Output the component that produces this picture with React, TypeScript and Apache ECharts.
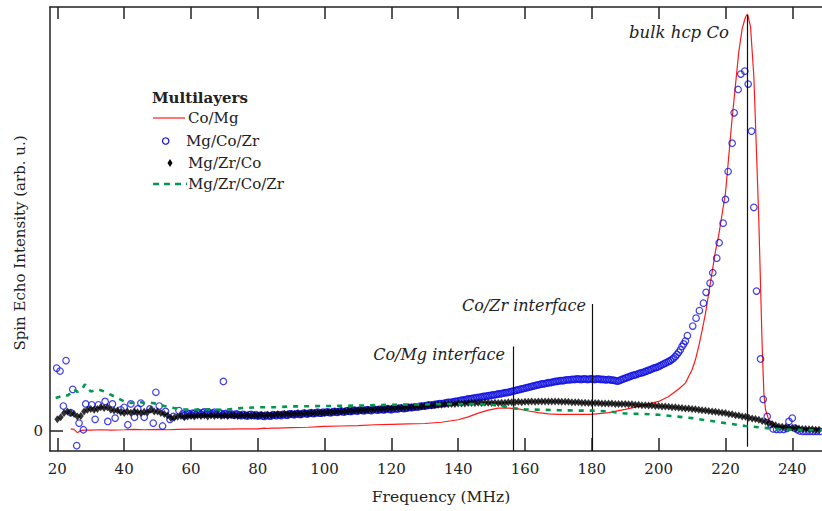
import React, { useEffect, useRef } from "react";
import * as echarts from "echarts";

// ---- Data ----
const xTicks = [20, 40, 60, 80, 100, 120, 140, 160, 180, 200, 220, 240];
const yTicks = [0];

// Co/Mg (red line)
const coMgFreq = [24, 25, 26, 27, 28, 30, 33, 36, 40, 43, 46, 50, 53, 56, 60, 65, 70, 75, 80, 82, 83, 84, 86, 90, 95, 100, 105, 110, 115, 120, 125, 130, 135, 140, 143, 146, 149, 152, 155, 158, 161, 164, 167, 170, 175, 180, 185, 190, 195, 200, 203, 206, 208, 210, 211, 212, 213, 214, 215, 216, 217, 218, 219, 220, 221, 222, 223, 224, 225, 226, 226.6, 227.5, 228.5, 229.5, 230, 230.5, 231, 231.5, 232, 233, 234, 236, 238, 240, 243, 246, 249];
const coMgVal = [0.4, 0.3, -0.5, 0.0, 0.1, 0.1, 0.2, 0.1, 0.2, 0.3, 0.2, 0.3, 0.2, 0.3, 0.35, 0.35, 0.35, 0.4, 0.4, 0.6, 0.5, 0.6, 0.6, 0.7, 0.8, 1.0, 1.1, 1.2, 1.4, 1.5, 1.6, 1.7, 2.0, 2.6, 3.3, 4.2, 4.9, 5.4, 5.4, 5.2, 4.7, 4.3, 4.0, 3.9, 3.9, 3.9, 4.3, 5.1, 6.0, 7.0, 8.2, 10.0, 11.4, 14.6, 17.0, 20.2, 24, 28, 33, 38, 43, 47, 52, 57, 66, 75, 83, 91, 96.5, 99.3, 100, 97, 85, 62, 50, 35, 20, 9, 5, 2.5, 1.5, 1.0, 0.7, 0.6, 0.3, 0.2, 0.2];

// Mg/Co/Zr (blue open circles): scattered low-frequency points
const mgCoZrLowFreq = [19.8, 20.8, 21.8, 22.6, 24, 24.6, 25.8, 26.5, 27.8, 28.5, 30.3, 31.3, 32.3, 34.3, 35.1, 36.5, 37.3, 39, 40, 41.1, 42, 43.1, 44.1, 45, 46, 47.7, 48.7, 49.5, 50.5, 51.5, 52.4, 53.7, 54.7, 56.4, 57.5, 69.7];
const mgCoZrLowVal = [15.0, 14.3, 5.9, 16.8, 4.3, 9.9, -3.6, 1.8, 0.2, 6.4, 6.2, 2.7, 6.2, 7.0, 2.2, 6.4, 3.0, 5.0, 5.6, 1.4, 6.4, 3.2, 5.2, 6.6, 3.2, 5.2, 1.8, 9.2, 5.9, 1.1, 4.6, 2.7, 3.4, 4.8, 4.0, 11.8];
// dense part, one point per MHz starting at 58 MHz
const mgCoZrDenseStart = 58;
const mgCoZrDenseVal = [
  3.6, 4.2, 3.8, 4.1, 4.4, 3.9, 4.5, 4.2, 4.0, 4.4, 3.9, 4.1, 4.0, 3.8, 4.0, 3.7, 3.9, 3.6, 3.8, 3.5,
  3.9, 3.6, 3.5, 3.7, 3.4, 3.6, 3.5, 3.7, 3.8, 3.6, 3.9, 3.7, 4.0, 3.8, 4.1, 3.9, 4.2, 4.0, 4.3, 4.1,
  4.4, 4.2, 4.3, 4.5, 4.3, 4.6, 4.4, 4.7, 4.5, 4.8, 4.6, 4.9, 4.7, 4.9, 4.8, 5.0, 4.8, 5.1, 4.9, 5.1,
  5.0, 5.2, 5.0, 5.3, 5.2, 5.4, 5.3, 5.5, 5.5, 5.7, 5.7, 5.9, 5.9, 6.1, 6.1, 6.3, 6.4, 6.5, 6.6, 6.8,
  6.8, 7.0, 7.1, 7.3, 7.4, 7.6, 7.7, 7.8, 8.0, 8.1, 8.2, 8.4, 8.5, 8.6, 8.8, 8.9, 9.1, 9.2, 9.4, 9.6,
  9.8, 10.0, 10.2, 10.4, 10.6, 10.8, 11.0, 11.2, 11.3, 11.5, 11.6, 11.8, 11.9, 12.0, 12.1, 12.2, 12.3, 12.3, 12.4, 12.3,
  12.4, 12.3, 12.4, 12.3, 12.4, 12.3, 12.2, 12.3, 12.1, 12.0, 11.9, 12.3, 12.6, 12.9, 13.2, 13.4, 13.7, 13.9, 14.2, 14.5,
  14.8, 15.1, 15.4, 15.8, 16.2, 16.6, 17.1, 17.8, 18.8, 20.2, 21.5
];
// the in-between readings of the dense part, starting at 58.5 MHz
const mgCoZrHalfStart = 58.5;
const mgCoZrHalfVal = [
  3.9, 4.0, 4.2, 3.9, 4.2, 4.3, 4.0, 4.3, 4.2, 4.0,
  4.2, 3.8, 4.1, 3.9, 3.8, 4.0, 3.7, 3.9, 3.6, 3.8,
  3.7, 3.8, 3.6, 3.5, 3.7, 3.5, 3.8, 3.6, 3.7, 3.9,
  3.7, 4.0, 3.9, 4.0, 3.9, 4.1, 4.0, 4.2, 4.1, 4.3,
  4.2, 4.4, 4.4, 4.3, 4.5, 4.4, 4.6, 4.5, 4.7, 4.6,
  4.8, 4.7, 4.9, 4.8, 5.0, 4.9, 5.0, 5.0, 5.1, 5.0,
  5.2, 5.1, 5.2, 5.2, 5.4, 5.3, 5.4, 5.6, 5.6, 5.7,
  5.8, 5.9, 6.0, 6.1, 6.2, 6.3, 6.5, 6.5, 6.7, 6.8,
  6.9, 7.0, 7.2, 7.3, 7.5, 7.6, 7.8, 7.9, 8.0, 8.2,
  8.3, 8.4, 8.6, 8.7, 8.8, 9.0, 9.1, 9.3, 9.5, 9.7,
  9.9, 10.1, 10.3, 10.5, 10.7, 10.9, 11.1, 11.2, 11.4, 11.5,
  11.7, 11.8, 12.0, 12.0, 12.2, 12.2, 12.3, 12.4, 12.3, 12.4,
  12.3, 12.4, 12.3, 12.4, 12.3, 12.3, 12.2, 12.2, 12.1, 11.9,
  12.1, 12.4, 12.7, 13.0, 13.3, 13.5, 13.8, 14.0, 14.3, 14.6,
  15.0, 15.2, 15.6, 16.0, 16.4, 16.8, 17.4, 18.3, 19.4, 20.8
];
// peak region
const mgCoZrPeakFreq = [208.6, 210.2, 211.2, 212.2, 213.4, 214.2, 215.4, 216.2, 217.4, 218.1, 219.3, 220, 220.8, 222, 222.6, 223.8, 224.6, 225.8, 226.8, 227.8, 228.5, 229.3, 230.5, 231.3, 232.5, 233.5, 234.3, 235.3, 236.3, 237.4, 238.3, 239, 240, 240.8, 241.5, 242.3, 243.3, 244.3, 245.3, 246.3, 247.3, 248.3];
const mgCoZrPeakVal = [22.8, 25.1, 27.0, 28.8, 30.6, 33.2, 35.4, 37.9, 41.4, 45.1, 49.8, 55.5, 62.2, 69, 76.3, 81.9, 85.6, 86.3, 83.2, 71.9, 53.6, 33.5, 17.2, 7.5, 3.4, 1.5, 0.4, 0.3, 0.3, 0.3, 0.5, 2.2, 3.0, 0.6, 0.2, -0.1, -0.2, -0.2, -0.2, -0.2, -0.2, -0.2];

// Mg/Zr/Co (black diamonds), one point per MHz starting at 20 MHz
const mgZrCoStart = 20;
const mgZrCoVal = [
  2.7, 3.2, 4.2, 4.6, 4.2, 4.0, 3.4, 3.5, 4.6, 5.0, 5.2, 5.0, 5.2, 5.6, 5.4, 5.6, 5.0, 4.8, 4.8, 4.4,
  4.2, 4.5, 4.3, 4.6, 4.4, 4.2, 4.5, 4.4, 5.0, 4.6, 4.6, 4.2, 4.0, 3.6, 3.0, 3.1, 3.3, 3.5, 3.2, 3.4,
  3.5, 3.4, 3.6, 3.5, 3.6, 3.4, 3.6, 3.5, 3.7, 3.5, 3.6, 3.5, 3.7, 3.6, 3.5, 3.7, 3.6, 3.7, 3.5, 3.7,
  3.6, 3.8, 3.6, 3.8, 3.7, 3.8, 3.9, 3.8, 4.0, 3.9, 4.0, 4.0, 4.1, 4.0, 4.2, 4.1, 4.2, 4.2, 4.3, 4.3,
  4.3, 4.4, 4.4, 4.5, 4.5, 4.6, 4.6, 4.7, 4.7, 4.8, 4.8, 4.9, 4.9, 5.0, 5.0, 5.1, 5.1, 5.2, 5.2, 5.3,
  5.3, 5.4, 5.4, 5.5, 5.5, 5.6, 5.6, 5.7, 5.8, 5.8, 5.9, 6.0, 6.0, 6.1, 6.2, 6.2, 6.3, 6.3, 6.4, 6.4,
  6.5, 6.5, 6.5, 6.6, 6.6, 6.6, 6.7, 6.6, 6.7, 6.7, 6.6, 6.7, 6.6, 6.7, 6.7, 6.8, 6.8, 6.8, 6.9, 6.8,
  6.9, 6.9, 7.0, 6.9, 7.0, 7.0, 7.0, 7.0, 7.0, 7.0, 7.0, 6.9, 6.9, 6.9, 6.8, 6.8, 6.8, 6.7, 6.7, 6.6,
  6.6, 6.6, 6.6, 6.5, 6.5, 6.5, 6.5, 6.4, 6.4, 6.4, 6.4, 6.3, 6.3, 6.2, 6.2, 6.1, 6.1, 6.0, 6.0, 5.9,
  5.9, 5.8, 5.8, 5.7, 5.6, 5.6, 5.5, 5.4, 5.3, 5.3, 5.2, 5.1, 5.0, 4.9, 4.8, 4.7, 4.6, 4.5, 4.4, 4.3,
  4.2, 4.0, 3.9, 3.7, 3.6, 3.4, 3.3, 3.1, 2.9, 2.8, 2.6, 2.3, 2.1, 1.8, 1.5, 1.3, 1.0, 0.9, 0.8, 0.7,
  0.7, 0.6, 0.5, 0.4, 0.4, 0.3, 0.3, 0.2, 0.2, 0.2
];

// Mg/Zr/Co/Zr (green dashed line)
const mgZrCoZrFreq = [19.5, 21, 22, 23, 24, 25, 26, 27, 28.3, 29, 30, 31, 32, 33, 34, 36, 38, 40, 42, 44, 46, 48, 50, 52, 55, 58, 60, 65, 70, 75, 80, 85, 90, 100, 110, 120, 130, 140, 145, 150, 153, 156, 160, 165, 170, 175, 180, 185, 190, 195, 200, 205, 210, 215, 220, 226, 230, 235, 240, 245, 249];
const mgZrCoZrVal = [7.8, 8.2, 8.6, 8.4, 9.0, 9.9, 9.3, 9.6, 11.1, 10.2, 9.4, 9.6, 9.9, 9.7, 9.4, 8.6, 7.8, 7.0, 6.6, 7.0, 6.6, 6.7, 6.4, 5.9, 5.4, 5.1, 5.0, 5.1, 5.0, 5.4, 5.6, 5.6, 5.8, 5.9, 6.0, 6.2, 6.3, 6.4, 6.4, 6.2, 5.9, 5.4, 5.1, 5.0, 4.9, 4.8, 4.8, 4.6, 4.1, 4.0, 3.8, 3.4, 3.0, 2.4, 1.8, 1.1, 0.8, 0.4, 0.2, 0.15, 0.1];

// Annotation markers
const annotations = [
  { label: "Co/Mg interface", freq: 156.5, top: 20.2, bottom: -4.9 },
  { label: "Co/Zr interface", freq: 180, top: 30.4, bottom: -4.9 },
  { label: "bulk hcp Co", freq: 226.5, top: 99.8, bottom: -3.9 },
];

const legendNames = ["Co/Mg", "Mg/Co/Zr", "Mg/Zr/Co", "Mg/Zr/Co/Zr"];

const FONT = "'DejaVu Serif', 'Liberation Serif', serif";
const RED = "#ff1a1a";
const BLUE = "#1010e0";
const GREEN = "#00994d";
const AXIS = "#222";

function zip(xs: number[], ys: number[]) {
  const n = Math.min(xs.length, ys.length);
  const out: number[][] = [];
  for (let i = 0; i < n; i++) out.push([xs[i], ys[i]]);
  return out;
}

export default function App() {
  const ref = useRef<HTMLDivElement>(null);

  useEffect(() => {
    if (!ref.current) return;
    const chart = echarts.init(ref.current, null, { renderer: "svg" });

    const blueData = [
      ...zip(mgCoZrLowFreq, mgCoZrLowVal),
      ...mgCoZrDenseVal.map((v, i) => [mgCoZrDenseStart + i, v]),
      ...mgCoZrHalfVal.map((v, i) => [mgCoZrHalfStart + i, v]),
      ...zip(mgCoZrPeakFreq, mgCoZrPeakVal),
    ];
    const blackData = mgZrCoVal.map((v, i) => [mgZrCoStart + i, v]);

    const xMin = 17.8;
    const xMax = 248.9;

    const option: any = {
      animation: false,
      backgroundColor: "#fff",
      grid: { left: 50, right: 0, top: 7, bottom: 60, containLabel: false },
      xAxis: [
        {
          type: "value",
          position: "bottom",
          min: xMin,
          max: xMax,
          axisLine: { show: true, onZero: false, lineStyle: { color: AXIS, width: 1.5 } },
          axisTick: { show: true, inside: true, length: 13, customValues: xTicks, lineStyle: { color: AXIS, width: 1.5 } },
          axisLabel: { show: true, customValues: xTicks, margin: 10, fontFamily: FONT, fontSize: 15, color: AXIS },
          splitLine: { show: false },
        },
        {
          type: "value",
          position: "top",
          min: xMin,
          max: xMax,
          axisLine: { show: true, onZero: false, lineStyle: { color: AXIS, width: 1.5 } },
          axisTick: { show: true, inside: true, length: 12, customValues: xTicks, lineStyle: { color: AXIS, width: 1.5 } },
          axisLabel: { show: false },
          splitLine: { show: false },
        },
      ],
      yAxis: {
        type: "value",
        min: -4.9,
        max: 101.7,
        axisLine: { show: true, onZero: false, lineStyle: { color: AXIS, width: 1.5 } },
        axisTick: { show: true, inside: true, length: 13, customValues: yTicks, lineStyle: { color: AXIS, width: 1.5 } },
        axisLabel: { show: true, customValues: yTicks, margin: 7, fontFamily: FONT, fontSize: 15, color: AXIS },
        splitLine: { show: false },
      },
      series: [
        {
          name: legendNames[0],
          type: "line",
          data: zip(coMgFreq, coMgVal),
          showSymbol: false,
          symbol: "none",
          lineStyle: { color: RED, width: 1.2 },
          z: 2,
          markLine: {
            silent: true,
            symbol: ["none", "none"],
            label: { show: false },
            lineStyle: { color: "#111", width: 1.2, type: "solid" },
            data: annotations.map((a) => [
              { coord: [a.freq, a.top] },
              { coord: [a.freq, a.bottom] },
            ]),
          },
        },
        {
          name: legendNames[1],
          type: "scatter",
          data: blueData,
          symbol: "circle",
          symbolSize: 6.5,
          itemStyle: { color: "rgba(0,0,0,0)", borderColor: BLUE, borderWidth: 1.2 },
          z: 3,
        },
        {
          name: legendNames[2],
          type: "scatter",
          data: blackData,
          symbol: "diamond",
          symbolSize: [6, 8],
          itemStyle: { color: "#000" },
          z: 4,
        },
        {
          name: legendNames[3],
          type: "line",
          data: zip(mgZrCoZrFreq, mgZrCoZrVal),
          showSymbol: false,
          symbol: "none",
          smooth: false,
          lineStyle: { color: GREEN, width: 2.6, type: [5, 6] },
          z: 5,
        },
      ],
      graphic: [
        {
          type: "text",
          x: 20,
          y: 243,
          rotation: Math.PI / 2,
          style: {
            text: "Spin Echo Intensity (arb. u.)",
            fontFamily: FONT,
            fontSize: 15,
            fill: AXIS,
            align: "center",
            verticalAlign: "middle",
          },
        },
        {
          type: "text",
          x: 441,
          y: 497,
          style: {
            text: "Frequency (MHz)",
            fontFamily: FONT,
            fontSize: 15.5,
            fill: AXIS,
            align: "center",
            verticalAlign: "middle",
          },
        },
        {
          type: "text",
          x: 729,
          y: 32,
          style: { text: annotations[2].label, fontFamily: FONT, fontStyle: "italic", fontSize: 16.5, fill: AXIS, align: "right", verticalAlign: "middle" },
        },
        {
          type: "text",
          x: 586,
          y: 305,
          style: { text: annotations[1].label, fontFamily: FONT, fontStyle: "italic", fontSize: 16, fill: AXIS, align: "right", verticalAlign: "middle" },
        },
        {
          type: "text",
          x: 505,
          y: 354,
          style: { text: annotations[0].label, fontFamily: FONT, fontStyle: "italic", fontSize: 16, fill: AXIS, align: "right", verticalAlign: "middle" },
        },
        {
          type: "text",
          x: 152,
          y: 98,
          style: { text: "Multilayers", fontFamily: FONT, fontWeight: "bold", fontSize: 15, fill: AXIS, align: "left", verticalAlign: "middle" },
        },
        {
          type: "line",
          shape: { x1: 153, y1: 118, x2: 185, y2: 118 },
          style: { stroke: RED, lineWidth: 1.2 },
        },
        {
          type: "text",
          x: 188,
          y: 118,
          style: { text: legendNames[0], fontFamily: FONT, fontSize: 15, fill: AXIS, align: "left", verticalAlign: "middle" },
        },
        {
          type: "circle",
          shape: { cx: 165.7, cy: 141, r: 3.2 },
          style: { fill: "none", stroke: BLUE, lineWidth: 1.2 },
        },
        {
          type: "text",
          x: 186,
          y: 141,
          style: { text: legendNames[1], fontFamily: FONT, fontSize: 15, fill: AXIS, align: "left", verticalAlign: "middle" },
        },
        {
          type: "polygon",
          shape: { points: [[170, 159], [172.5, 163], [170, 167], [167.5, 163]] },
          style: { fill: "#000" },
        },
        {
          type: "text",
          x: 188,
          y: 163,
          style: { text: legendNames[2], fontFamily: FONT, fontSize: 15, fill: AXIS, align: "left", verticalAlign: "middle" },
        },
        {
          type: "line",
          shape: { x1: 153, y1: 184, x2: 187, y2: 184 },
          style: { stroke: GREEN, lineWidth: 2.4, lineDash: [6, 5] },
        },
        {
          type: "text",
          x: 188,
          y: 184,
          style: { text: legendNames[3], fontFamily: FONT, fontSize: 15, fill: AXIS, align: "left", verticalAlign: "middle" },
        },
      ],
    };

    chart.setOption(option);
    return () => chart.dispose();
  }, []);

  return (
    <div
      ref={ref}
      style={{ position: "absolute", left: 0, top: 0, width: 822, height: 511, background: "#fff" }}
    />
  );
}
